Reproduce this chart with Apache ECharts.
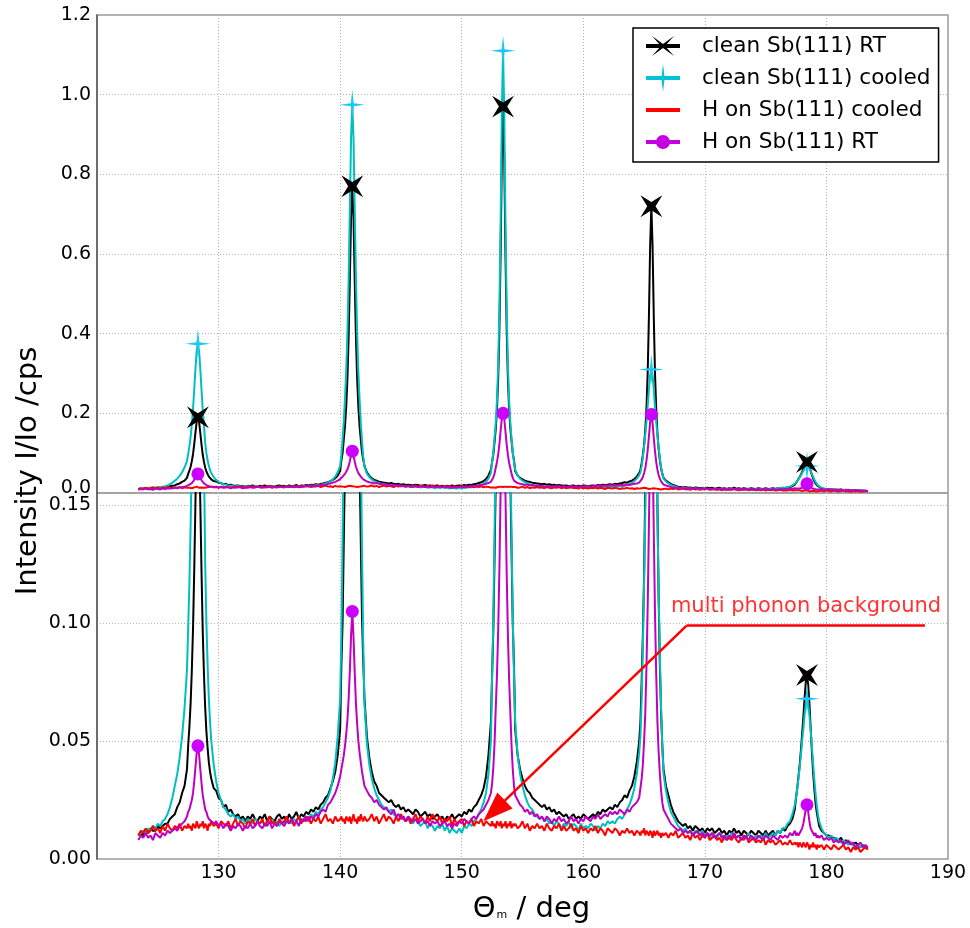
<!DOCTYPE html>
<html>
<head>
<meta charset="utf-8">
<script src="https://cdn.jsdelivr.net/npm/echarts@6/dist/echarts.min.js"></script>
<style>
  html, body { margin: 0; padding: 0; background: #fff; }
  #chart { width: 970px; height: 928px; }
</style>
</head>
<body>
<div id="chart"></div>
<script>
// Scattering angle (deg); finer steps across the five diffraction peaks
const theta = [
  123.4,123.6,123.8,124.0,124.2,124.4,124.6,124.8,125.0,125.2,125.4,125.6,125.8,126.0,126.2,126.4,126.6,126.8,127.0,127.2,127.4,
  127.5,127.6,127.7,127.8,127.9,128.0,128.1,128.2,128.3,128.4,128.5,128.6,128.7,128.8,128.9,129.0,129.1,129.2,129.3,
  129.4,129.6,129.8,130.0,130.2,130.4,130.6,130.8,131.0,131.2,
  131.4,131.6,131.8,132.0,132.2,132.4,132.6,132.8,133.0,133.2,
  133.4,133.6,133.8,134.0,134.2,134.4,134.6,134.8,135.0,135.2,
  135.4,135.6,135.8,136.0,136.2,136.4,136.6,136.8,137.0,137.2,
  137.4,137.6,137.8,138.0,138.2,138.4,138.6,138.8,139.0,139.2,
  139.4,139.6,139.8,140.0,
  140.1,140.2,140.3,140.4,140.5,140.6,140.7,140.8,140.9,141.0,141.1,141.2,141.3,141.4,141.5,141.6,141.7,141.8,141.9,
  142.0,142.2,142.4,142.6,142.8,143.0,143.2,143.4,143.6,143.8,
  144.0,144.2,144.4,144.6,144.8,145.0,145.2,145.4,145.6,145.8,
  146.0,146.2,146.4,146.6,146.8,147.0,147.2,147.4,147.6,147.8,
  148.0,148.2,148.4,148.6,148.8,149.0,149.2,149.4,149.6,149.8,
  150.0,150.2,150.4,150.6,150.8,151.0,151.2,151.4,151.6,151.8,
  152.0,152.2,152.4,
  152.5,152.6,152.7,152.8,152.9,153.0,153.1,153.2,153.3,153.4,153.5,153.6,153.7,153.8,153.9,154.0,154.1,154.2,154.3,
  154.4,154.6,154.8,155.0,155.2,155.4,155.6,155.8,156.0,156.2,
  156.4,156.6,156.8,157.0,157.2,157.4,157.6,157.8,158.0,158.2,
  158.4,158.6,158.8,159.0,159.2,159.4,159.6,159.8,160.0,160.2,
  160.4,160.6,160.8,161.0,161.2,161.4,161.6,161.8,162.0,162.2,
  162.4,162.6,162.8,163.0,163.2,163.4,163.6,163.8,164.0,164.2,
  164.4,164.6,
  164.7,164.8,164.9,165.0,165.1,165.2,165.3,165.4,165.5,165.6,165.7,165.8,165.9,166.0,166.1,166.2,166.3,166.4,166.5,
  166.6,166.8,167.0,167.2,167.4,167.6,167.8,168.0,168.2,168.4,
  168.6,168.8,169.0,169.2,169.4,169.6,169.8,170.0,170.2,170.4,
  170.6,170.8,171.0,171.2,171.4,171.6,171.8,172.0,172.2,172.4,
  172.6,172.8,173.0,173.2,173.4,173.6,173.8,174.0,174.2,174.4,
  174.6,174.8,175.0,175.2,175.4,175.6,175.8,176.0,176.2,176.4,
  176.6,176.8,177.0,177.2,177.4,
  177.5,177.6,177.7,177.8,177.9,178.0,178.1,178.2,178.3,178.4,178.5,178.6,178.7,178.8,178.9,179.0,179.1,179.2,179.3,
  179.4,179.6,179.8,180.0,180.2,180.4,180.6,180.8,181.0,181.2,181.4,181.6,181.8,182.0,182.2,182.4,182.6,182.8,183.0,183.2,183.4
];

// clean Sb(111), room temperature
const cleanRT = [
  0.010,0.011,0.010,0.012,0.011,0.013,0.012,0.012,0.014,0.013,0.014,0.015,0.015,0.017,0.018,0.019,0.022,0.024,0.028,0.031,0.038,
  0.048,0.056,0.066,0.080,0.098,0.123,0.152,0.179,0.190,0.178,0.150,0.121,0.096,0.078,0.064,0.054,0.047,0.041,0.037,
  0.034,0.030,0.029,0.026,0.025,0.022,0.023,0.020,0.021,0.019,
  0.018,0.019,0.017,0.018,0.016,0.018,0.017,0.019,0.017,0.016,
  0.018,0.017,0.019,0.016,0.018,0.017,0.016,0.018,0.019,0.017,
  0.018,0.016,0.019,0.017,0.018,0.020,0.017,0.019,0.018,0.020,
  0.019,0.021,0.020,0.022,0.021,0.023,0.024,0.026,0.027,0.030,
  0.033,0.037,0.044,0.055,
  0.082,0.100,0.135,0.168,0.217,0.289,0.394,0.538,0.695,0.770,0.690,0.532,0.390,0.286,0.215,0.167,0.134,0.102,0.084,
  0.068,0.052,0.043,0.037,0.033,0.031,0.028,0.027,0.026,0.025,
  0.024,0.025,0.023,0.022,0.023,0.021,0.022,0.020,0.021,0.020,
  0.019,0.021,0.020,0.018,0.019,0.020,0.018,0.019,0.017,0.018,
  0.019,0.017,0.018,0.016,0.018,0.017,0.019,0.017,0.018,0.019,
  0.018,0.020,0.019,0.021,0.020,0.022,0.023,0.025,0.027,0.030,
  0.035,0.044,0.058,
  0.078,0.097,0.128,0.161,0.210,0.288,0.410,0.601,0.841,0.970,0.838,0.598,0.408,0.287,0.210,0.162,0.130,0.100,0.082,
  0.055,0.044,0.038,0.034,0.031,0.029,0.028,0.026,0.025,0.024,
  0.023,0.022,0.023,0.021,0.022,0.020,0.021,0.019,0.020,0.019,
  0.018,0.019,0.017,0.018,0.019,0.017,0.018,0.017,0.019,0.018,
  0.017,0.018,0.019,0.018,0.020,0.019,0.021,0.020,0.021,0.022,
  0.021,0.023,0.022,0.024,0.025,0.027,0.026,0.029,0.031,0.035,
  0.041,0.050,
  0.058,0.075,0.095,0.120,0.158,0.215,0.305,0.445,0.622,0.720,0.618,0.440,0.300,0.210,0.150,0.110,0.082,0.062,0.048,
  0.038,0.031,0.027,0.023,0.020,0.018,0.016,0.015,0.014,0.015,
  0.013,0.014,0.012,0.014,0.013,0.012,0.013,0.011,0.013,0.012,
  0.013,0.011,0.012,0.013,0.011,0.012,0.010,0.012,0.011,0.013,
  0.011,0.012,0.010,0.012,0.011,0.010,0.012,0.011,0.010,0.012,
  0.011,0.010,0.012,0.010,0.011,0.012,0.010,0.012,0.011,0.013,
  0.012,0.014,0.015,0.017,0.021,
  0.026,0.030,0.035,0.040,0.046,0.053,0.060,0.068,0.075,0.078,0.074,0.066,0.056,0.046,0.037,0.030,0.024,0.020,0.017,
  0.014,0.012,0.011,0.010,0.010,0.009,0.009,0.008,0.008,0.009,0.007,0.008,0.007,0.007,0.006,0.007,0.006,0.005,0.006,0.005,0.005
];

// clean Sb(111), cooled
const cleanCooled = [
  0.010,0.011,0.012,0.011,0.013,0.012,0.014,0.013,0.015,0.014,0.016,0.017,0.019,0.022,0.026,0.031,0.036,0.043,0.052,0.064,0.080,
  0.098,0.117,0.141,0.172,0.212,0.261,0.313,0.357,0.375,0.355,0.310,0.258,0.209,0.169,0.125,0.100,0.082,0.068,0.058,
  0.050,0.040,0.033,0.028,0.025,0.022,0.021,0.019,0.018,0.019,
  0.017,0.018,0.016,0.017,0.015,0.017,0.016,0.015,0.017,0.016,
  0.015,0.016,0.014,0.016,0.015,0.017,0.015,0.016,0.014,0.016,
  0.015,0.017,0.016,0.015,0.017,0.016,0.018,0.016,0.017,0.018,
  0.017,0.019,0.018,0.020,0.019,0.021,0.022,0.024,0.026,0.029,
  0.034,0.041,0.052,0.068,
  0.095,0.135,0.180,0.238,0.307,0.404,0.542,0.717,0.894,0.975,0.890,0.712,0.538,0.400,0.303,0.234,0.176,0.130,0.092,
  0.066,0.049,0.040,0.034,0.030,0.027,0.025,0.023,0.022,0.021,
  0.020,0.021,0.019,0.018,0.019,0.017,0.018,0.016,0.017,0.016,
  0.015,0.017,0.016,0.014,0.015,0.016,0.013,0.015,0.014,0.012,
  0.014,0.013,0.015,0.012,0.014,0.011,0.013,0.012,0.011,0.013,
  0.011,0.014,0.013,0.015,0.014,0.016,0.017,0.019,0.021,0.024,
  0.028,0.036,0.050,
  0.078,0.102,0.138,0.176,0.233,0.322,0.463,0.682,0.958,1.110,0.955,0.679,0.460,0.320,0.232,0.176,0.136,0.102,0.078,
  0.058,0.044,0.036,0.031,0.027,0.024,0.022,0.021,0.019,0.018,
  0.017,0.018,0.016,0.017,0.015,0.016,0.014,0.016,0.015,0.013,
  0.015,0.014,0.016,0.013,0.015,0.014,0.012,0.015,0.013,0.014,
  0.013,0.015,0.014,0.012,0.014,0.013,0.015,0.014,0.016,0.015,
  0.016,0.015,0.017,0.018,0.017,0.019,0.021,0.023,0.026,0.030,
  0.036,0.045,
  0.052,0.068,0.090,0.117,0.147,0.180,0.219,0.261,0.296,0.310,0.295,0.259,0.217,0.178,0.145,0.113,0.086,0.064,0.048,
  0.036,0.029,0.024,0.020,0.018,0.016,0.014,0.013,0.012,0.013,
  0.011,0.012,0.010,0.012,0.011,0.010,0.012,0.010,0.011,0.009,
  0.011,0.010,0.009,0.011,0.010,0.008,0.010,0.009,0.011,0.010,
  0.009,0.010,0.008,0.010,0.009,0.011,0.009,0.008,0.010,0.009,
  0.010,0.009,0.011,0.009,0.010,0.011,0.010,0.012,0.011,0.013,
  0.013,0.015,0.016,0.019,0.023,
  0.026,0.030,0.034,0.039,0.044,0.050,0.055,0.061,0.066,0.068,0.066,0.061,0.055,0.048,0.041,0.034,0.028,0.023,0.019,
  0.016,0.013,0.011,0.010,0.009,0.010,0.008,0.009,0.008,0.007,0.008,0.007,0.006,0.007,0.006,0.005,0.006,0.005,0.006,0.005,0.004
];

// H on Sb(111), cooled
const hCooled = [
  0.010,0.012,0.011,0.013,0.011,0.012,0.014,0.012,0.013,0.011,0.014,0.012,0.015,0.013,0.012,0.014,0.013,0.015,0.012,0.014,0.013,
  0.015,0.013,0.014,0.012,0.015,0.014,0.013,0.016,0.014,0.013,0.015,0.014,0.016,0.013,0.015,0.014,0.012,0.015,0.014,
  0.016,0.014,0.015,0.013,0.016,0.015,0.014,0.016,0.013,0.015,
  0.017,0.014,0.016,0.015,0.013,0.016,0.015,0.017,0.014,0.016,
  0.015,0.017,0.014,0.016,0.018,0.015,0.016,0.014,0.017,0.015,
  0.016,0.018,0.015,0.017,0.014,0.016,0.018,0.015,0.017,0.016,
  0.018,0.015,0.017,0.016,0.018,0.015,0.017,0.019,0.016,0.017,
  0.015,0.018,0.016,0.017,
  0.018,0.016,0.017,0.015,0.018,0.017,0.016,0.018,0.015,0.017,0.019,0.016,0.017,0.015,0.018,0.016,0.019,0.017,0.016,
  0.018,0.016,0.017,0.019,0.016,0.018,0.015,0.017,0.019,0.016,
  0.018,0.017,0.015,0.018,0.016,0.019,0.017,0.016,0.018,0.015,
  0.017,0.019,0.016,0.018,0.017,0.015,0.018,0.016,0.019,0.017,
  0.016,0.018,0.015,0.017,0.016,0.018,0.014,0.017,0.015,0.016,
  0.017,0.014,0.016,0.015,0.017,0.014,0.016,0.015,0.017,0.014,
  0.016,0.015,0.014,
  0.016,0.014,0.015,0.013,0.016,0.015,0.014,0.016,0.013,0.015,0.014,0.016,0.013,0.015,0.014,0.016,0.013,0.015,0.014,
  0.015,0.013,0.014,0.016,0.013,0.015,0.012,0.014,0.013,0.015,
  0.013,0.014,0.012,0.015,0.013,0.012,0.014,0.013,0.015,0.012,
  0.014,0.012,0.013,0.015,0.012,0.013,0.011,0.014,0.012,0.013,
  0.011,0.013,0.012,0.014,0.011,0.013,0.012,0.010,0.013,0.012,
  0.011,0.013,0.012,0.010,0.012,0.011,0.013,0.011,0.012,0.010,
  0.012,0.011,
  0.010,0.012,0.011,0.013,0.010,0.012,0.011,0.010,0.012,0.011,0.009,0.012,0.010,0.011,0.012,0.010,0.011,0.009,0.011,
  0.010,0.011,0.009,0.011,0.010,0.012,0.009,0.010,0.011,0.009,
  0.010,0.008,0.011,0.009,0.010,0.008,0.010,0.009,0.011,0.008,
  0.009,0.010,0.008,0.009,0.007,0.010,0.008,0.009,0.008,0.010,
  0.008,0.007,0.009,0.008,0.010,0.007,0.008,0.009,0.007,0.008,
  0.007,0.009,0.006,0.008,0.007,0.008,0.006,0.007,0.008,0.006,
  0.007,0.006,0.008,0.006,0.007,
  0.006,0.007,0.005,0.007,0.006,0.005,0.007,0.006,0.005,0.007,0.006,0.004,0.006,0.005,0.007,0.005,0.006,0.004,0.006,
  0.005,0.006,0.004,0.006,0.005,0.004,0.006,0.005,0.004,0.005,0.006,0.004,0.005,0.003,0.005,0.004,0.005,0.003,0.004,0.005,0.004
];

// H on Sb(111), room temperature
const hRT = [
  0.008,0.010,0.009,0.011,0.009,0.010,0.008,0.011,0.010,0.009,0.011,0.010,0.012,0.011,0.012,0.013,0.012,0.014,0.015,0.016,0.018,
  0.020,0.021,0.023,0.025,0.028,0.033,0.039,0.045,0.048,0.044,0.038,0.032,0.027,0.024,0.021,0.020,0.018,0.017,0.017,
  0.016,0.015,0.016,0.014,0.015,0.013,0.015,0.014,0.012,0.014,
  0.013,0.015,0.014,0.012,0.014,0.013,0.015,0.013,0.014,0.016,
  0.014,0.013,0.015,0.014,0.016,0.013,0.015,0.014,0.016,0.015,
  0.014,0.016,0.015,0.017,0.015,0.016,0.014,0.017,0.016,0.018,
  0.016,0.018,0.017,0.019,0.018,0.020,0.021,0.020,0.023,0.024,
  0.026,0.028,0.031,0.035,
  0.038,0.041,0.044,0.048,0.053,0.059,0.068,0.080,0.095,0.105,0.094,0.079,0.066,0.057,0.050,0.045,0.041,0.037,0.034,
  0.031,0.029,0.027,0.026,0.024,0.025,0.023,0.022,0.021,0.022,
  0.020,0.019,0.021,0.018,0.019,0.017,0.018,0.016,0.018,0.017,
  0.016,0.017,0.015,0.016,0.017,0.015,0.016,0.014,0.016,0.015,
  0.016,0.014,0.015,0.016,0.014,0.015,0.013,0.015,0.014,0.016,
  0.015,0.017,0.016,0.015,0.017,0.018,0.017,0.019,0.020,0.021,
  0.023,0.025,0.028,
  0.032,0.039,0.049,0.064,0.078,0.097,0.123,0.156,0.187,0.200,0.186,0.154,0.121,0.095,0.076,0.062,0.048,0.038,0.031,
  0.027,0.025,0.023,0.022,0.020,0.021,0.019,0.020,0.018,0.019,
  0.017,0.018,0.016,0.018,0.017,0.015,0.017,0.016,0.018,0.016,
  0.017,0.015,0.016,0.018,0.016,0.017,0.015,0.017,0.016,0.018,
  0.017,0.016,0.018,0.017,0.019,0.017,0.018,0.019,0.018,0.020,
  0.019,0.020,0.019,0.021,0.020,0.019,0.021,0.020,0.022,0.023,
  0.024,0.026,
  0.030,0.034,0.040,0.050,0.062,0.082,0.108,0.142,0.178,0.197,0.176,0.138,0.104,0.078,0.058,0.045,0.036,0.029,0.024,
  0.021,0.019,0.017,0.015,0.014,0.013,0.012,0.013,0.011,0.012,
  0.011,0.012,0.010,0.011,0.012,0.010,0.011,0.009,0.011,0.010,
  0.011,0.009,0.010,0.011,0.009,0.010,0.008,0.010,0.009,0.011,
  0.009,0.010,0.008,0.010,0.009,0.008,0.010,0.009,0.008,0.010,
  0.009,0.008,0.010,0.009,0.008,0.010,0.009,0.008,0.010,0.009,
  0.010,0.009,0.011,0.010,0.012,
  0.010,0.011,0.010,0.011,0.012,0.013,0.015,0.018,0.021,0.023,0.020,0.016,0.013,0.012,0.011,0.010,0.011,0.009,0.010,
  0.009,0.010,0.008,0.009,0.008,0.009,0.007,0.008,0.007,0.008,0.006,0.007,0.008,0.006,0.007,0.005,0.006,0.007,0.005,0.006,0.005
];

// Peak angles where the series markers sit
const peakTheta = [128.3, 141.0, 153.4, 165.6, 178.4];

// Axis ranges
const thetaRange = [120, 190];
const fullRange = [0, 1.2];
const zoomRange = [0, 0.1552];

const annotationText = 'multi phonon background';
const annotationLabelAt = [178.32, 0.1069];
const annotationPath = [[188.1, 0.099], [168.5, 0.099], [152.67, 0.0204]];

const FONT = 'DejaVu Sans';
const names = ['clean Sb(111) RT', 'clean Sb(111) cooled', 'H on Sb(111) cooled', 'H on Sb(111) RT'];

const toPoints = vals => theta.map((t, i) => [t, vals[i]]);
const toPeaks = vals => peakTheta.map(t => [t, vals[theta.indexOf(t)]]);

const STAR_PLUS = 'path://M0,-15 L1.5,-1.5 L12.5,0 L1.5,1.5 L0,15 L-1.5,1.5 L-12.5,0 L-1.5,-1.5 Z';
const STAR_X = 'path://M0,-10 L1.9,-1.9 L10,0 L1.9,1.9 L0,10 L-1.9,1.9 L-10,0 L-1.9,-1.9 Z';

const lines = [
  { name: names[0], vals: cleanRT, color: '#000000' },
  { name: names[1], vals: cleanCooled, color: '#00bfbf' },
  { name: names[2], vals: hCooled, color: '#ff0000' },
  { name: names[3], vals: hRT, color: '#bf00bf' }
];
const markers = [
  { name: names[1], vals: cleanCooled, symbol: STAR_PLUS, size: [25, 30], rotate: 0, color: '#1ec8f2' },
  { name: names[0], vals: cleanRT, symbol: STAR_X, size: 31, rotate: 45, color: '#000000' },
  { name: names[3], vals: hRT, symbol: 'circle', size: 13, rotate: 0, color: '#cc00ff' }
];

const series = [];
[0, 1].forEach(panel => {
  lines.forEach((l, k) => {
    series.push({
      type: 'line', name: l.name, data: toPoints(l.vals),
      xAxisIndex: panel, yAxisIndex: panel,
      symbol: 'none', color: l.color,
      lineStyle: { color: l.color, width: 2 },
      z: 2 + k * 0.1, silent: true, clip: true, animation: false
    });
  });
});
[0, 1].forEach(panel => {
  markers.forEach(m => {
    series.push({
      type: 'scatter', name: m.name, data: toPeaks(m.vals),
      xAxisIndex: panel, yAxisIndex: panel,
      symbol: m.symbol, symbolSize: m.size, symbolRotate: m.rotate,
      itemStyle: { color: m.color, opacity: 1 },
      z: 5, silent: true, clip: true, animation: false
    });
  });
});
// Annotation: label and arrow pointing at the background level
series.push({
  type: 'scatter', name: 'note', xAxisIndex: 1, yAxisIndex: 1,
  data: [annotationLabelAt], symbolSize: 1, itemStyle: { color: 'transparent' },
  silent: true, animation: false, z: 6,
  label: {
    show: true, position: 'inside', formatter: annotationText,
    color: '#ff0000', fontSize: 21, fontFamily: FONT
  },
  markLine: {
    silent: true, animation: false, symbol: 'none',
    label: { show: false },
    lineStyle: { color: '#ff0000', width: 2.5, type: 'solid' },
    data: [
      [{ coord: annotationPath[0] }, { coord: annotationPath[1] }],
      [{ coord: annotationPath[1], symbol: 'none' },
       { coord: annotationPath[2], symbol: 'triangle', symbolSize: [22, 30] }]
    ]
  }
});

const ANCHOR = 'M0,0 L0,0 Z M51,28 L51,28 Z ';
const BAR = 'M0,12 L34,12 L34,16 L0,16 Z ';
const legendIcons = [
  'path://' + ANCHOR + BAR + 'M17,12 L28,4 L19,14 L28,24 L17,16 L6,24 L15,14 L6,4 Z',
  'path://' + ANCHOR + BAR + 'M17,0 L18.5,12.5 L30,14 L18.5,15.5 L17,28 L15.5,15.5 L4,14 L15.5,12.5 Z',
  'path://' + ANCHOR + BAR,
  'path://' + ANCHOR + BAR + 'M10,14 A7,7 0 1,1 24,14 A7,7 0 1,1 10,14 Z'
];
const legendColors = ['#000000', '#00c3d6', '#ff0000', '#c400e0'];

const gridLine = { show: true, lineStyle: { color: '#b4b4b4', width: 1, type: [1, 2] } };
const labelFont = { fontSize: 19, fontFamily: FONT, color: '#000' };

const option = {
  animation: false,
  backgroundColor: '#fff',
  grid: [
    { left: 97, right: 22, top: 15, height: 478, show: true, borderColor: '#9a9a9a', borderWidth: 1.5, backgroundColor: 'transparent' },
    { left: 97, right: 22, top: 493, height: 366, show: true, borderColor: '#9a9a9a', borderWidth: 1.5, backgroundColor: 'transparent' }
  ],
  xAxis: [
    {
      gridIndex: 0, type: 'value', min: thetaRange[0], max: thetaRange[1], interval: 10,
      position: 'top',
      axisLine: { show: false }, axisTick: { show: false }, axisLabel: { show: false },
      splitLine: gridLine
    },
    {
      gridIndex: 1, type: 'value', min: thetaRange[0], max: thetaRange[1], interval: 10,
      axisLine: { show: false }, axisTick: { show: false },
      axisLabel: Object.assign({ margin: 5, showMinLabel: false }, labelFont),
      splitLine: gridLine,
      name: '{a|Θ}{b|m}{a| / deg}', nameLocation: 'middle', nameGap: 36,
      nameTextStyle: {
        padding: [0, 0, 0, 18],
        rich: {
          a: { fontSize: 29, fontFamily: FONT, color: '#000' },
          b: { fontSize: 11, fontFamily: FONT, color: '#000', verticalAlign: 'bottom', padding: [0, 0, 3, 1] }
        }
      }
    }
  ],
  yAxis: [
    {
      gridIndex: 0, type: 'value', min: fullRange[0], max: fullRange[1], interval: 0.2,
      axisLine: { show: true, lineStyle: { color: '#555', width: 1.5 } }, axisTick: { show: false },
      axisLabel: Object.assign({
        margin: 6,
        formatter: v => v === 0 ? '{z|0.0}' : v.toFixed(1),
        rich: { z: { fontSize: 19, fontFamily: FONT, color: '#000', padding: [0, 0, 10, 0] } }
      }, labelFont),
      splitLine: gridLine
    },
    {
      gridIndex: 1, type: 'value', min: zoomRange[0], max: zoomRange[1], interval: 0.05,
      axisLine: { show: true, lineStyle: { color: '#555', width: 1.5 } }, axisTick: { show: false },
      axisLabel: Object.assign({ margin: 6, showMaxLabel: false, formatter: v => v.toFixed(2) }, labelFont),
      splitLine: gridLine
    }
  ],
  legend: {
    orient: 'vertical', left: 633, top: 28,
    itemWidth: 51, itemHeight: 28, itemGap: 4,
    padding: [4, 8, 6, 13],
    borderColor: '#000', borderWidth: 1.5, backgroundColor: '#fff',
    selectedMode: false,
    textStyle: { fontSize: 21.6, fontFamily: FONT, color: '#000' },
    data: names.map((n, i) => ({ name: n, icon: legendIcons[i], itemStyle: { color: legendColors[i] } }))
  },
  graphic: [
    {
      type: 'text', x: 28, y: 471, rotation: Math.PI / 2, silent: true,
      style: {
        text: 'Intensity I/Io /cps', font: '29px "DejaVu Sans"', fill: '#000',
        align: 'center', verticalAlign: 'middle'
      }
    }
  ],
  series: series
};

const chart = echarts.init(document.getElementById('chart'), null, { renderer: 'canvas' });
chart.setOption(option);
</script>
</body>
</html>
